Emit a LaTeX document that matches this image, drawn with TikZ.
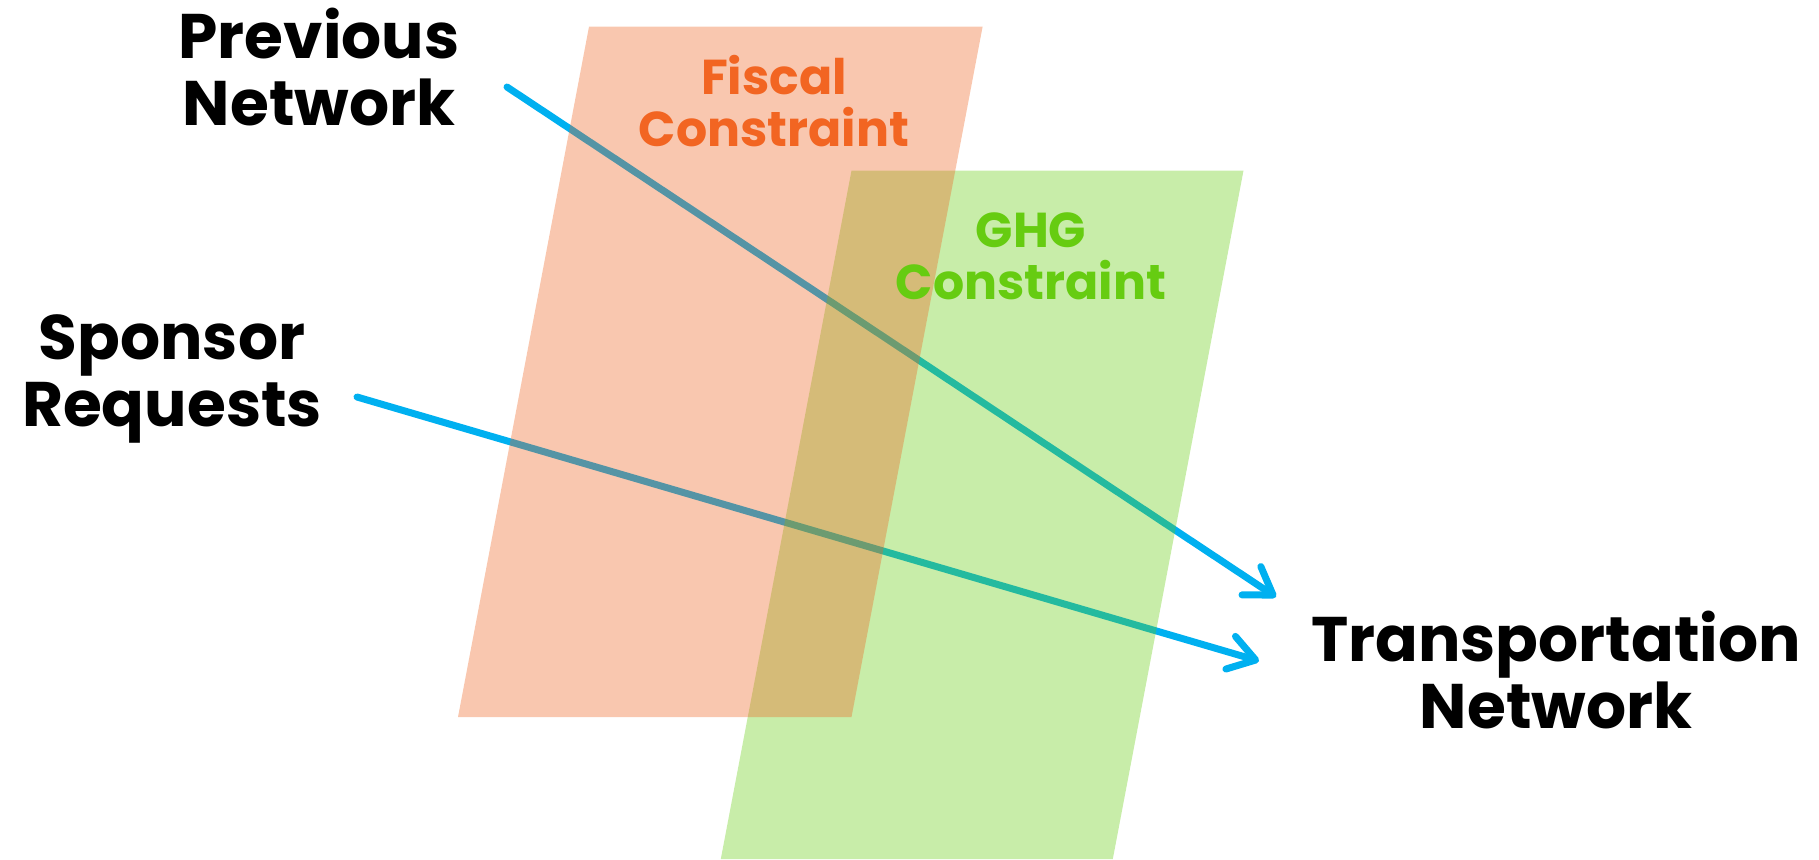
\documentclass[tikz,border=0pt]{standalone}
\usepackage{fontspec}
\setmainfont{Poppins}
\usetikzlibrary{arrows.meta}
\definecolor{arrowblue}{RGB}{0,176,240}
\definecolor{fiscalfill}{RGB}{238,101,34}
\definecolor{ghgfill}{RGB}{102,204,17}
\definecolor{fiscaltext}{RGB}{242,101,34}
\definecolor{ghgtext}{RGB}{102,204,17}
\tikzset{
  flow/.style={draw=arrowblue, line width=7pt, line cap=round,
    -{Straight Barb[length=26pt,width=34pt,round]}},
  bigtext/.style={font=\fontsize{63}{67}\selectfont\bfseries, align=center, inner sep=0pt, text=black},
  constext/.style={font=\fontsize{49}{52}\selectfont\bfseries, align=center, inner sep=0pt},
  plane/.style={fill opacity=0.36, draw=none}
}
\begin{document}
\begin{tikzpicture}[x=1pt,y=-1pt]
\useasboundingbox (0,0) rectangle (1819,859);
% arrow end points
\coordinate (pnstart) at (507,87);
\coordinate (pnend) at (1276,597);
\coordinate (srstart) at (357,397);
\coordinate (srend) at (1259,661);
% connectors (drawn under the translucent planes)
\draw[flow] (pnstart) -- (pnend);
\draw[flow] (srstart) -- (srend);
% planes
\path[plane, fill=ghgfill] (851.5,170.5) -- (1243.5,170.5) -- (1112.8,859) -- (720.8,859) -- cycle;
\path[plane, fill=fiscalfill] (589,26.7) -- (982.6,26.7) -- (851.5,717) -- (458,717) -- cycle;
% labels
\node[bigtext] (prev) at (319,67) {Previous\\Network};
\node[bigtext] (spons) at (172,379) {Sponsor\\Requests};
\node[bigtext] (trans) at (1556,670) {Transportation\\Network};
\node[constext, text=fiscaltext] (fiscal) at (774,101) {Fiscal\\Constraint};
\node[constext, text=ghgtext] (ghg) at (1031,256) {GHG\\Constraint};
\end{tikzpicture}
\end{document}
